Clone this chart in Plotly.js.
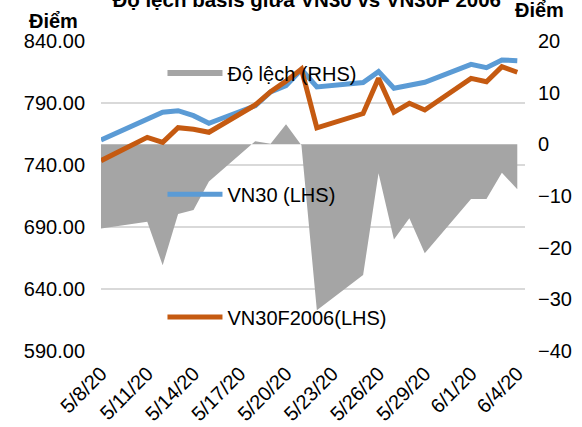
<!DOCTYPE html>
<html>
<head>
<meta charset="utf-8">
<script src="https://cdn.plot.ly/plotly-3.0.1.min.js"></script>
<style>
html,body{margin:0;padding:0;background:#fff;}
#chart{width:582px;height:427px;}
</style>
</head>
<body>
<div id="chart"></div>
<script>
// Trading days
var dates = ['2020-05-08','2020-05-11','2020-05-12','2020-05-13','2020-05-14','2020-05-15',
  '2020-05-18','2020-05-19','2020-05-20','2020-05-21','2020-05-22',
  '2020-05-25','2020-05-26','2020-05-27','2020-05-28','2020-05-29',
  '2020-06-01','2020-06-02','2020-06-03','2020-06-04'];

// VN30 index (LHS)
var vn30 = [760.2, 776.5, 782.5, 783.8, 779.8, 773.6,
  787.8, 799.0, 804.0, 817.0, 803.0,
  806.5, 815.3, 801.9, 804.5, 806.7,
  821.2, 818.5, 824.7, 824.1];

// VN30F2006 futures (LHS)
var vn30f = [743.5, 762.3, 758.3, 770.1, 768.8, 766.4,
  788.4, 799.1, 807.6, 817.3, 770.0,
  781.5, 809.9, 782.5, 789.8, 784.4,
  809.9, 807.2, 819.3, 814.8];

// Deviation / basis (RHS)
var dev = [-16.3, -15.0, -23.4, -13.5, -12.7, -7.2,
  0.6, 0.1, 3.9, -0.2, -32.1,
  -25.3, -5.6, -18.4, -14.3, -21.1,
  -10.6, -10.6, -5.5, -8.7];

var tickDates = ['2020-05-08','2020-05-11','2020-05-14','2020-05-17','2020-05-20',
  '2020-05-23','2020-05-26','2020-05-29','2020-06-01','2020-06-04'];
var tickLabels = ['5/8/20','5/11/20','5/14/20','5/17/20','5/20/20',
  '5/23/20','5/26/20','5/29/20','6/1/20','6/4/20'];

var leftTicks = [590, 640, 690, 740, 790, 840];
var rightTicks = [-40, -30, -20, -10, 0, 10, 20];

var FONT = 'Liberation Sans, Arial, sans-serif';

var traces = [
  {
    x: dates, y: dev, name: 'Độ lệch (RHS)', type: 'scatter', mode: 'none',
    fill: 'tozeroy', fillcolor: '#a5a5a5', yaxis: 'y', legend: 'legend'
  },
  {
    x: dates, y: vn30, name: 'VN30 (LHS)', type: 'scatter', mode: 'lines',
    line: {color: '#5b9bd5', width: 5}, yaxis: 'y2', legend: 'legend2'
  },
  {
    x: dates, y: vn30f, name: 'VN30F2006(LHS)', type: 'scatter', mode: 'lines',
    line: {color: '#c55a11', width: 5}, yaxis: 'y2', legend: 'legend3'
  }
];

var legendBase = {
  xref: 'paper', yref: 'paper', xanchor: 'left', yanchor: 'middle',
  bgcolor: 'rgba(0,0,0,0)', borderwidth: 0, itemwidth: 55,
  font: {family: FONT, size: 20, color: '#000'}
};
function mkLegend(x, y) {
  var o = {};
  for (var k in legendBase) o[k] = legendBase[k];
  o.x = x; o.y = y;
  return o;
}

var layout = {
  width: 582, height: 427,
  margin: {l: 101, r: 57, t: 41, b: 76, pad: 0},
  paper_bgcolor: '#fff', plot_bgcolor: '#fff',
  font: {family: FONT, size: 20, color: '#000'},
  title: {
    text: 'Độ lệch basis giữa VN30 vs VN30F 2006',
    font: {family: FONT, size: 20.5, color: '#000', weight: 700},
    x: 0.527, xanchor: 'center', xref: 'container',
    y: 1, yanchor: 'middle', yref: 'container'
  },
  xaxis: {
    type: 'date',
    range: ['2020-05-08', '2020-06-04 12:00'],
    tickvals: tickDates, ticktext: tickLabels,
    tickangle: -45, ticks: '', showgrid: false, zeroline: false, showline: false,
    tickfont: {family: FONT, size: 20, color: '#000'},
    ticklabelstandoff: 6
  },
  yaxis: {
    side: 'right', range: [-40, 20], tickvals: rightTicks,
    showgrid: false, zeroline: false, showline: false, ticks: '',
    tickfont: {family: FONT, size: 20, color: '#000'},
    ticklabelstandoff: 12
  },
  yaxis2: {
    side: 'left', overlaying: 'y', range: [590, 840], tickvals: leftTicks,
    tickformat: '.2f', showgrid: true, gridcolor: '#d9d9d9', gridwidth: 1.5,
    zeroline: false, showline: false, ticks: '',
    tickfont: {family: FONT, size: 20, color: '#000'},
    ticklabelstandoff: 15
  },
  showlegend: true,
  legend: mkLegend(0.145, 0.897),
  legend2: mkLegend(0.145, 0.506),
  legend3: mkLegend(0.145, 0.11),
  annotations: [
    {text: 'Điểm', xref: 'paper', yref: 'paper', x: -0.0495, y: 1.0645,
     xanchor: 'right', yanchor: 'middle', showarrow: false,
     font: {family: FONT, size: 20, color: '#000', weight: 700}},
    {text: 'Điểm', xref: 'paper', yref: 'paper', x: 1.035, y: 1.1,
     xanchor: 'center', yanchor: 'middle', showarrow: false,
     font: {family: FONT, size: 20, color: '#000', weight: 700}}
  ]
};

Plotly.newPlot('chart', traces, layout, {displayModeBar: false, staticPlot: true});
</script>
</body>
</html>
